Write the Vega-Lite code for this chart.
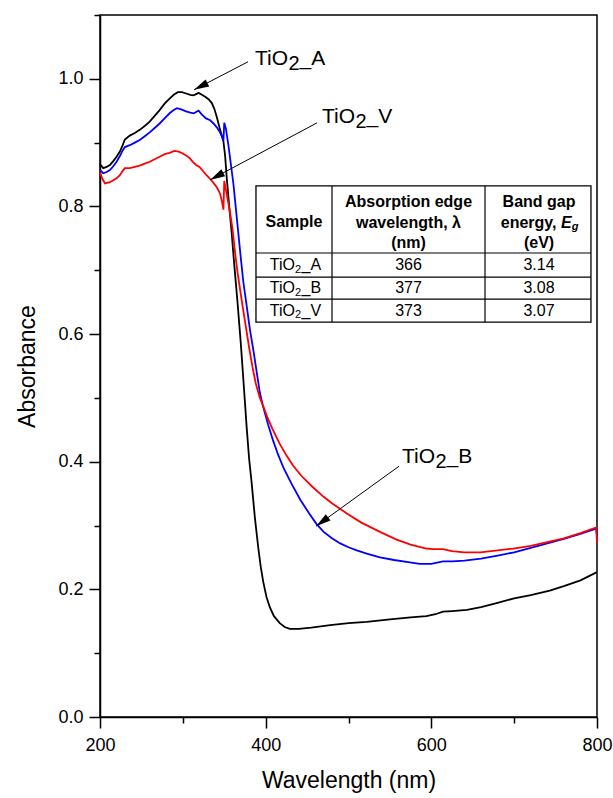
{
  "$schema": "https://vega.github.io/schema/vega-lite/v6.json",
  "width": 497,
  "height": 702,
  "autosize": "none",
  "padding": {"left": 100, "top": 15, "right": 16, "bottom": 81},
  "background": "white",
  "config": {
    "view": {"stroke": "black", "strokeWidth": 1.5},
    "axis": {"domainColor": "black", "domainWidth": 1.5, "tickColor": "black", "tickWidth": 1.5, "labelFont": "Liberation Sans", "labelFontSize": 18, "labelColor": "black", "titleFont": "Liberation Sans", "titleFontSize": 23, "titleFontWeight": "normal", "titleColor": "black", "grid": false, "labelOverlap": false, "labelFlush": false},
    "text": {"font": "Liberation Sans", "color": "black"}
  },
  "datasets": {
    "spectra": [
      {"s":"A","wl":200,"ab":0.866},{"s":"A","wl":204,"ab":0.860},{"s":"A","wl":208,"ab":0.862},{"s":"A","wl":212,"ab":0.865},{"s":"A","wl":216,"ab":0.871},{"s":"A","wl":220,"ab":0.878},{"s":"A","wl":224,"ab":0.886},{"s":"A","wl":227,"ab":0.895},{"s":"A","wl":230,"ab":0.905},{"s":"A","wl":236,"ab":0.911},{"s":"A","wl":242,"ab":0.915},{"s":"A","wl":248,"ab":0.920},{"s":"A","wl":254,"ab":0.926},{"s":"A","wl":260,"ab":0.933},{"s":"A","wl":266,"ab":0.942},{"s":"A","wl":272,"ab":0.951},{"s":"A","wl":278,"ab":0.961},{"s":"A","wl":284,"ab":0.969},{"s":"A","wl":289,"ab":0.975},{"s":"A","wl":294,"ab":0.979},{"s":"A","wl":299,"ab":0.979},{"s":"A","wl":304,"ab":0.977},{"s":"A","wl":309,"ab":0.975},{"s":"A","wl":313,"ab":0.974},{"s":"A","wl":316,"ab":0.976},{"s":"A","wl":319,"ab":0.978},{"s":"A","wl":323,"ab":0.975},{"s":"A","wl":327,"ab":0.972},{"s":"A","wl":331,"ab":0.968},{"s":"A","wl":335,"ab":0.962},{"s":"A","wl":338,"ab":0.953},{"s":"A","wl":341,"ab":0.940},{"s":"A","wl":345,"ab":0.920},{"s":"A","wl":349,"ab":0.902},{"s":"A","wl":351,"ab":0.880},{"s":"A","wl":353,"ab":0.845},{"s":"A","wl":356,"ab":0.800},{"s":"A","wl":359,"ab":0.758},{"s":"A","wl":362,"ab":0.710},{"s":"A","wl":366,"ab":0.650},{"s":"A","wl":370,"ab":0.585},{"s":"A","wl":373,"ab":0.530},{"s":"A","wl":377,"ab":0.455},{"s":"A","wl":380,"ab":0.405},{"s":"A","wl":383,"ab":0.368},{"s":"A","wl":387,"ab":0.312},{"s":"A","wl":391,"ab":0.266},{"s":"A","wl":394,"ab":0.236},{"s":"A","wl":397,"ab":0.212},{"s":"A","wl":401,"ab":0.188},{"s":"A","wl":405,"ab":0.172},{"s":"A","wl":410,"ab":0.158},{"s":"A","wl":417,"ab":0.147},{"s":"A","wl":423,"ab":0.141},{"s":"A","wl":429,"ab":0.138},{"s":"A","wl":440,"ab":0.138},{"s":"A","wl":455,"ab":0.140},{"s":"A","wl":478,"ab":0.144},{"s":"A","wl":500,"ab":0.147},{"s":"A","wl":522,"ab":0.149},{"s":"A","wl":550,"ab":0.153},{"s":"A","wl":575,"ab":0.156},{"s":"A","wl":594,"ab":0.158},{"s":"A","wl":605,"ab":0.161},{"s":"A","wl":614,"ab":0.165},{"s":"A","wl":625,"ab":0.166},{"s":"A","wl":643,"ab":0.168},{"s":"A","wl":660,"ab":0.172},{"s":"A","wl":680,"ab":0.179},{"s":"A","wl":700,"ab":0.186},{"s":"A","wl":720,"ab":0.191},{"s":"A","wl":743,"ab":0.198},{"s":"A","wl":760,"ab":0.205},{"s":"A","wl":780,"ab":0.214},{"s":"A","wl":800,"ab":0.227},
      {"s":"B","wl":200,"ab":0.857},{"s":"B","wl":204,"ab":0.852},{"s":"B","wl":208,"ab":0.854},{"s":"B","wl":212,"ab":0.857},{"s":"B","wl":216,"ab":0.863},{"s":"B","wl":220,"ab":0.870},{"s":"B","wl":224,"ab":0.879},{"s":"B","wl":227,"ab":0.887},{"s":"B","wl":230,"ab":0.893},{"s":"B","wl":236,"ab":0.896},{"s":"B","wl":242,"ab":0.900},{"s":"B","wl":248,"ab":0.904},{"s":"B","wl":254,"ab":0.910},{"s":"B","wl":260,"ab":0.916},{"s":"B","wl":266,"ab":0.923},{"s":"B","wl":272,"ab":0.930},{"s":"B","wl":278,"ab":0.938},{"s":"B","wl":284,"ab":0.946},{"s":"B","wl":289,"ab":0.951},{"s":"B","wl":293,"ab":0.954},{"s":"B","wl":298,"ab":0.952},{"s":"B","wl":304,"ab":0.949},{"s":"B","wl":309,"ab":0.947},{"s":"B","wl":313,"ab":0.946},{"s":"B","wl":316,"ab":0.948},{"s":"B","wl":319,"ab":0.950},{"s":"B","wl":323,"ab":0.944},{"s":"B","wl":328,"ab":0.938},{"s":"B","wl":333,"ab":0.935},{"s":"B","wl":337,"ab":0.930},{"s":"B","wl":341,"ab":0.924},{"s":"B","wl":345,"ab":0.916},{"s":"B","wl":348,"ab":0.907},{"s":"B","wl":349,"ab":0.903},{"s":"B","wl":350,"ab":0.931},{"s":"B","wl":352,"ab":0.922},{"s":"B","wl":355,"ab":0.896},{"s":"B","wl":358,"ab":0.866},{"s":"B","wl":361,"ab":0.836},{"s":"B","wl":364,"ab":0.797},{"s":"B","wl":367,"ab":0.758},{"s":"B","wl":370,"ab":0.719},{"s":"B","wl":373,"ab":0.682},{"s":"B","wl":377,"ab":0.645},{"s":"B","wl":381,"ab":0.607},{"s":"B","wl":385,"ab":0.576},{"s":"B","wl":389,"ab":0.542},{"s":"B","wl":393,"ab":0.508},{"s":"B","wl":397,"ab":0.486},{"s":"B","wl":403,"ab":0.458},{"s":"B","wl":409,"ab":0.433},{"s":"B","wl":415,"ab":0.411},{"s":"B","wl":422,"ab":0.389},{"s":"B","wl":431,"ab":0.366},{"s":"B","wl":442,"ab":0.340},{"s":"B","wl":453,"ab":0.318},{"s":"B","wl":461,"ab":0.303},{"s":"B","wl":470,"ab":0.290},{"s":"B","wl":480,"ab":0.280},{"s":"B","wl":490,"ab":0.272},{"s":"B","wl":500,"ab":0.266},{"s":"B","wl":510,"ab":0.261},{"s":"B","wl":522,"ab":0.256},{"s":"B","wl":538,"ab":0.250},{"s":"B","wl":555,"ab":0.246},{"s":"B","wl":570,"ab":0.243},{"s":"B","wl":586,"ab":0.240},{"s":"B","wl":600,"ab":0.240},{"s":"B","wl":607,"ab":0.242},{"s":"B","wl":614,"ab":0.244},{"s":"B","wl":625,"ab":0.244},{"s":"B","wl":640,"ab":0.245},{"s":"B","wl":660,"ab":0.248},{"s":"B","wl":680,"ab":0.253},{"s":"B","wl":700,"ab":0.258},{"s":"B","wl":720,"ab":0.265},{"s":"B","wl":740,"ab":0.272},{"s":"B","wl":760,"ab":0.279},{"s":"B","wl":780,"ab":0.287},{"s":"B","wl":799,"ab":0.295},{"s":"B","wl":800,"ab":0.285},
      {"s":"V","wl":200,"ab":0.853},{"s":"V","wl":203,"ab":0.843},{"s":"V","wl":206,"ab":0.836},{"s":"V","wl":212,"ab":0.838},{"s":"V","wl":216,"ab":0.841},{"s":"V","wl":220,"ab":0.844},{"s":"V","wl":224,"ab":0.849},{"s":"V","wl":227,"ab":0.855},{"s":"V","wl":230,"ab":0.860},{"s":"V","wl":236,"ab":0.860},{"s":"V","wl":242,"ab":0.862},{"s":"V","wl":248,"ab":0.864},{"s":"V","wl":254,"ab":0.867},{"s":"V","wl":260,"ab":0.870},{"s":"V","wl":266,"ab":0.874},{"s":"V","wl":272,"ab":0.878},{"s":"V","wl":278,"ab":0.882},{"s":"V","wl":284,"ab":0.884},{"s":"V","wl":290,"ab":0.887},{"s":"V","wl":295,"ab":0.886},{"s":"V","wl":300,"ab":0.883},{"s":"V","wl":304,"ab":0.880},{"s":"V","wl":308,"ab":0.876},{"s":"V","wl":312,"ab":0.870},{"s":"V","wl":316,"ab":0.865},{"s":"V","wl":320,"ab":0.862},{"s":"V","wl":324,"ab":0.856},{"s":"V","wl":328,"ab":0.850},{"s":"V","wl":333,"ab":0.843},{"s":"V","wl":337,"ab":0.837},{"s":"V","wl":341,"ab":0.830},{"s":"V","wl":345,"ab":0.820},{"s":"V","wl":347.5,"ab":0.806},{"s":"V","wl":349,"ab":0.795},{"s":"V","wl":350,"ab":0.840},{"s":"V","wl":352,"ab":0.826},{"s":"V","wl":355,"ab":0.805},{"s":"V","wl":357,"ab":0.790},{"s":"V","wl":360,"ab":0.765},{"s":"V","wl":363,"ab":0.728},{"s":"V","wl":366,"ab":0.697},{"s":"V","wl":369,"ab":0.671},{"s":"V","wl":372,"ab":0.645},{"s":"V","wl":376,"ab":0.612},{"s":"V","wl":380,"ab":0.579},{"s":"V","wl":384,"ab":0.549},{"s":"V","wl":388,"ab":0.523},{"s":"V","wl":393,"ab":0.500},{"s":"V","wl":397,"ab":0.487},{"s":"V","wl":402,"ab":0.470},{"s":"V","wl":408,"ab":0.452},{"s":"V","wl":417,"ab":0.428},{"s":"V","wl":425,"ab":0.410},{"s":"V","wl":433,"ab":0.394},{"s":"V","wl":443,"ab":0.378},{"s":"V","wl":457,"ab":0.360},{"s":"V","wl":470,"ab":0.345},{"s":"V","wl":480,"ab":0.335},{"s":"V","wl":498,"ab":0.319},{"s":"V","wl":515,"ab":0.305},{"s":"V","wl":538,"ab":0.290},{"s":"V","wl":558,"ab":0.278},{"s":"V","wl":575,"ab":0.270},{"s":"V","wl":594,"ab":0.264},{"s":"V","wl":602,"ab":0.263},{"s":"V","wl":614,"ab":0.263},{"s":"V","wl":625,"ab":0.260},{"s":"V","wl":640,"ab":0.258},{"s":"V","wl":659,"ab":0.258},{"s":"V","wl":680,"ab":0.261},{"s":"V","wl":699,"ab":0.264},{"s":"V","wl":720,"ab":0.268},{"s":"V","wl":740,"ab":0.274},{"s":"V","wl":760,"ab":0.280},{"s":"V","wl":780,"ab":0.288},{"s":"V","wl":799,"ab":0.297},{"s":"V","wl":800,"ab":0.273}
    ],
    "arrows": [
      {"wl":378.7,"ab":1.0267,"wl2":313.5,"ab2":0.9827,"ang":243},
      {"wl":462.0,"ab":0.9310,"wl2":332.8,"ab2":0.8416,"ang":242},
      {"wl":561.0,"ab":0.3929,"wl2":460.8,"ab2":0.2990,"ang":234}
    ],
    "labels": [
      {"wl":387.1,"ab":1.0220,"suffix":"_A"},
      {"wl":468.0,"ab":0.9310,"suffix":"_V"},
      {"wl":564.6,"ab":0.3976,"suffix":"_B"}
    ],
    "tablebox": [{"wl":388.3,"wl2":792.7,"ab":0.6188,"ab2":0.8322}],
    "tablelines": [
      {"wl":388.3,"wl2":792.7,"ab":0.7271,"ab2":0.7271},
      {"wl":388.3,"wl2":792.7,"ab":0.6894,"ab2":0.6894},
      {"wl":388.3,"wl2":792.7,"ab":0.6549,"ab2":0.6549},
      {"wl":480.1,"wl2":480.1,"ab":0.6188,"ab2":0.8322},
      {"wl":664.8,"wl2":664.8,"ab":0.6188,"ab2":0.8322}
    ],
    "header": [
      {"t":"Sample","wl":434.2,"ab":0.7757},
      {"t":"Absorption edge","wl":572.4,"ab":0.8071},
      {"t":"wavelength, λ","wl":572.4,"ab":0.7741},
      {"t":"(nm)","wl":572.4,"ab":0.7427},
      {"t":"Band gap","wl":730.0,"ab":0.8071},
      {"t":"(eV)","wl":730.0,"ab":0.7427}
    ],
    "rows": [
      {"s":"_A","edge":"366","gap":"3.14","ab":0.7082},
      {"s":"_B","edge":"377","gap":"3.08","ab":0.6722},
      {"s":"_V","edge":"373","gap":"3.07","ab":0.6369}
    ]
  },
  "layer": [
    {
      "data": {"name": "spectra"},
      "mark": {"type": "line", "strokeWidth": 1.8},
      "encoding": {
        "x": {"field": "wl", "type": "quantitative", "scale": {"domain": [200, 800], "nice": false, "zero": false},
          "axis": {"title": "Wavelength (nm)", "values": [200, 300, 400, 500, 600, 700, 800], "format": "d", "labelExpr": "datum.value % 200 === 0 ? datum.label : ''", "tickSize": {"condition": {"test": "datum.value % 200 === 0", "value": 11}, "value": 6}, "labelPadding": 8, "titlePadding": 15}},
        "y": {"field": "ab", "type": "quantitative", "scale": {"domain": [0, 1.1], "nice": false, "zero": false},
          "axis": {"title": "Absorbance", "values": [0, 0.1, 0.2, 0.3, 0.4, 0.5, 0.6, 0.7, 0.8, 0.9, 1.0, 1.1], "labelExpr": "round(datum.value * 10) % 2 === 0 ? format(datum.value, '.1f') : ''", "tickSize": {"condition": {"test": "round(datum.value * 10) % 2 === 0", "value": 11}, "value": 6}, "labelPadding": 6, "titlePadding": 18}},
        "color": {"field": "s", "type": "nominal", "scale": {"domain": ["A", "B", "V"], "range": ["#000000", "#0000ff", "#ff0000"]}, "legend": null}
      }
    },
    {
      "data": {"name": "arrows"},
      "mark": {"type": "rule", "color": "black", "strokeWidth": 1},
      "encoding": {
        "x": {"field": "wl", "type": "quantitative"},
        "y": {"field": "ab", "type": "quantitative"},
        "x2": {"field": "wl2"},
        "y2": {"field": "ab2"}
      }
    },
    {
      "data": {"name": "arrows"},
      "mark": {"type": "point", "shape": "M0,0L0.53,2L-0.53,2Z", "size": 225, "filled": true, "color": "black", "opacity": 1, "strokeWidth": 0},
      "encoding": {
        "x": {"field": "wl2", "type": "quantitative"},
        "y": {"field": "ab2", "type": "quantitative"},
        "angle": {"field": "ang", "type": "quantitative", "scale": null}
      }
    },
    {
      "data": {"name": "labels"},
      "mark": {"type": "text", "align": "left", "baseline": "alphabetic", "fontSize": 21, "font": "Liberation Sans", "text": "TiO"},
      "encoding": {
        "x": {"field": "wl", "type": "quantitative"},
        "y": {"field": "ab", "type": "quantitative"}
      }
    },
    {
      "data": {"name": "labels"},
      "mark": {"type": "text", "align": "left", "baseline": "alphabetic", "fontSize": 20, "font": "Liberation Sans", "text": "2", "dx": 33.5, "dy": 5},
      "encoding": {
        "x": {"field": "wl", "type": "quantitative"},
        "y": {"field": "ab", "type": "quantitative"}
      }
    },
    {
      "data": {"name": "labels"},
      "mark": {"type": "text", "align": "left", "baseline": "alphabetic", "fontSize": 21, "font": "Liberation Sans", "dx": 44.5},
      "encoding": {
        "x": {"field": "wl", "type": "quantitative"},
        "y": {"field": "ab", "type": "quantitative"},
        "text": {"field": "suffix"}
      }
    },
    {
      "data": {"name": "tablebox"},
      "mark": {"type": "rect", "fill": "white", "stroke": "black", "strokeWidth": 1.3},
      "encoding": {
        "x": {"field": "wl", "type": "quantitative"},
        "x2": {"field": "wl2"},
        "y": {"field": "ab", "type": "quantitative"},
        "y2": {"field": "ab2"}
      }
    },
    {
      "data": {"name": "tablelines"},
      "mark": {"type": "rule", "color": "black", "strokeWidth": 1.2},
      "encoding": {
        "x": {"field": "wl", "type": "quantitative"},
        "x2": {"field": "wl2"},
        "y": {"field": "ab", "type": "quantitative"},
        "y2": {"field": "ab2"}
      }
    },
    {
      "data": {"name": "header"},
      "mark": {"type": "text", "align": "center", "baseline": "middle", "fontSize": 16, "fontWeight": "bold", "font": "Liberation Sans"},
      "encoding": {
        "x": {"field": "wl", "type": "quantitative"},
        "y": {"field": "ab", "type": "quantitative"},
        "text": {"field": "t"}
      }
    },
    {
      "data": {"values": [{"t": "energy,"}]},
      "mark": {"type": "text", "align": "right", "baseline": "middle", "fontSize": 16, "fontWeight": "bold", "font": "Liberation Sans"},
      "encoding": {
        "x": {"datum": 751.1, "type": "quantitative"},
        "y": {"datum": 0.7741, "type": "quantitative"},
        "text": {"field": "t"}
      }
    },
    {
      "data": {"values": [{"t": "E"}]},
      "mark": {"type": "text", "align": "left", "baseline": "middle", "fontSize": 16, "fontWeight": "bold", "fontStyle": "italic", "font": "Liberation Sans", "dx": 4.5},
      "encoding": {
        "x": {"datum": 751.1, "type": "quantitative"},
        "y": {"datum": 0.7741, "type": "quantitative"},
        "text": {"field": "t"}
      }
    },
    {
      "data": {"values": [{"t": "g"}]},
      "mark": {"type": "text", "align": "left", "baseline": "middle", "fontSize": 11, "fontWeight": "bold", "fontStyle": "italic", "font": "Liberation Sans", "dx": 15.2, "dy": 4},
      "encoding": {
        "x": {"datum": 751.1, "type": "quantitative"},
        "y": {"datum": 0.7741, "type": "quantitative"},
        "text": {"field": "t"}
      }
    },
    {
      "data": {"name": "rows"},
      "mark": {"type": "text", "align": "right", "baseline": "middle", "fontSize": 16, "font": "Liberation Sans", "text": "TiO"},
      "encoding": {
        "x": {"datum": 435.4, "type": "quantitative"},
        "y": {"field": "ab", "type": "quantitative"}
      }
    },
    {
      "data": {"name": "rows"},
      "mark": {"type": "text", "align": "left", "baseline": "middle", "fontSize": 11, "font": "Liberation Sans", "text": "2", "dy": 4.5},
      "encoding": {
        "x": {"datum": 435.4, "type": "quantitative"},
        "y": {"field": "ab", "type": "quantitative"}
      }
    },
    {
      "data": {"name": "rows"},
      "mark": {"type": "text", "align": "left", "baseline": "middle", "fontSize": 16, "font": "Liberation Sans", "dx": 6.5},
      "encoding": {
        "x": {"datum": 435.4, "type": "quantitative"},
        "y": {"field": "ab", "type": "quantitative"},
        "text": {"field": "s"}
      }
    },
    {
      "data": {"name": "rows"},
      "mark": {"type": "text", "align": "center", "baseline": "middle", "fontSize": 16, "font": "Liberation Sans"},
      "encoding": {
        "x": {"datum": 572.4, "type": "quantitative"},
        "y": {"field": "ab", "type": "quantitative"},
        "text": {"field": "edge"}
      }
    },
    {
      "data": {"name": "rows"},
      "mark": {"type": "text", "align": "center", "baseline": "middle", "fontSize": 16, "font": "Liberation Sans"},
      "encoding": {
        "x": {"datum": 730.0, "type": "quantitative"},
        "y": {"field": "ab", "type": "quantitative"},
        "text": {"field": "gap"}
      }
    }
  ]
}
